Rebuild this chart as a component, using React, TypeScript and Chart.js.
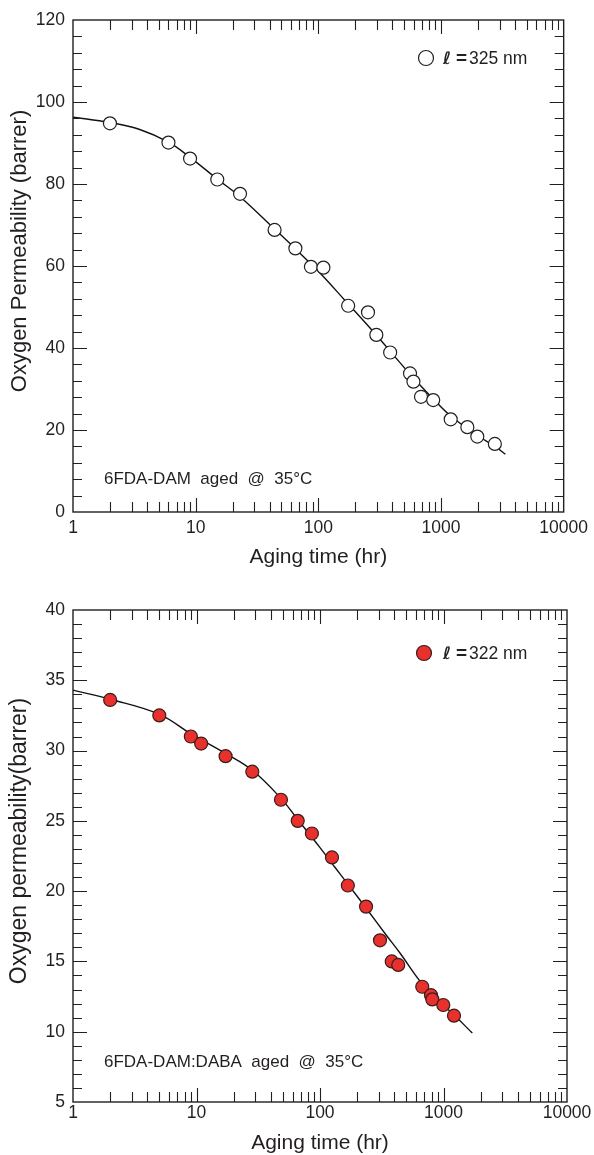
import React, { useEffect, useRef } from 'react';
import { Chart, registerables } from 'chart.js';

Chart.register(...registerables);

const FONT = "'Liberation Sans', Arial, Helvetica, sans-serif";
const INK = '#231f20';

// ---------- Panel A : 6FDA-DAM (l = 325 nm) ----------
const agingTimeA = [2, 6, 9, 15, 23, 44, 65, 87, 110, 175, 254, 297, 385, 559, 596, 687, 864, 1200, 1640, 1976, 2748];
const permeabilityA = [94.8, 90.1, 86.2, 81.1, 77.6, 68.8, 64.3, 59.8, 59.6, 50.3, 48.7, 43.2, 38.9, 33.8, 31.8, 28.1, 27.3, 22.6, 20.7, 18.4, 16.6];
const fitTimeA = [1, 2, 3.5, 6, 9, 15, 23, 44, 65, 100, 165, 300, 560, 850, 1200, 2000, 2750, 3350];
const fitPermA = [96.3, 95.0, 93.3, 90.2, 86.5, 81.2, 76.9, 69.0, 64.2, 58.7, 51.6, 43.0, 33.6, 27.8, 23.4, 18.6, 16.0, 14.1];

// ---------- Panel B : 6FDA-DAM:DABA (l = 322 nm) ----------
const agingTimeB = [2, 5, 9, 10.9, 17.2, 28.3, 48.3, 66, 86, 125, 168, 236, 306, 381, 430, 673, 792, 812, 996, 1216];
const permeabilityB = [33.6, 32.5, 31.0, 30.5, 29.6, 28.5, 26.5, 25.0, 24.1, 22.4, 20.4, 18.9, 16.5, 15.0, 14.75, 13.2, 12.6, 12.3, 11.9, 11.14];
const fitTimeB = [1, 2, 5, 9, 17.2, 28.3, 48.3, 66, 100, 132, 168, 236, 342, 444, 673, 996, 1216, 1711];
const fitPermB = [34.3, 33.65, 32.58, 31.2, 29.8, 28.6, 26.6, 25.1, 23.1, 21.7, 20.5, 18.8, 16.9, 15.6, 13.4, 11.9, 11.2, 9.9];

// ---------- Axes ----------
const xTickLabels = [1, 10, 100, 1000, 10000];
const xMin = 1;
const xMax = 10000;

const yRangeA = [0, 120];
const yStepA = 20;
const yMinorA = 4;
const yRangeB = [5, 40];
const yStepB = 5;
const yMinorB = 1;

const xTitle = 'Aging time (hr)';
const yTitleA = 'Oxygen Permeability (barrer)';
const yTitleB = 'Oxygen permeability(barrer)';
const noteA = '6FDA-DAM  aged  @  35°C';
const noteB = '6FDA-DAM:DABA  aged  @  35°C';
const legendNumA = '325 nm';
const legendNumB = '322 nm';

type Panel = {
  times: number[];
  perms: number[];
  fitT: number[];
  fitP: number[];
  yRange: number[];
  yStep: number;
  yMinor: number;
  yTitle: string;
  yTitleSize: number;
  note: string;
  noteY: number;
  legendNum: string;
  legendY: number;
  legendX: number;
  filled: boolean;
  height: number;
  xLabelPad: number;
  xTitleY: number;
};

const panels: Panel[] = [
  {
    times: agingTimeA, perms: permeabilityA, fitT: fitTimeA, fitP: fitPermA,
    yRange: yRangeA, yStep: yStepA, yMinor: yMinorA, yTitle: yTitleA, yTitleSize: 22,
    note: noteA, noteY: 484, legendNum: legendNumA, legendY: 58, legendX: 426,
    filled: false, height: 590, xLabelPad: 6, xTitleY: 563,
  },
  {
    times: agingTimeB, perms: permeabilityB, fitT: fitTimeB, fitP: fitPermB,
    yRange: yRangeB, yStep: yStepB, yMinor: yMinorB, yTitle: yTitleB, yTitleSize: 23,
    note: noteB, noteY: 477, legendNum: legendNumB, legendY: 63, legendX: 424,
    filled: true, height: 565, xLabelPad: 1, xTitleY: 559,
  },
];

function decorPlugin(p: Panel) {
  return {
    id: 'decor',
    afterDraw(chart: any) {
      const { ctx, chartArea: a, scales } = chart;
      const xs = scales.x;
      const ys = scales.y;
      ctx.save();
      ctx.strokeStyle = INK;
      ctx.lineWidth = 1.1;
      ctx.beginPath();
      // x ticks (log): inward, top and bottom
      for (let d = 1; d <= 1000; d *= 10) {
        for (let m = 1; m <= 9; m++) {
          const v = m * d;
          if (v <= xMin || v >= xMax) continue;
          const px = Math.round(xs.getPixelForValue(v)) + 0.5;
          const L = m === 1 ? 14 : 10;
          ctx.moveTo(px, a.bottom);
          ctx.lineTo(px, a.bottom - L);
          ctx.moveTo(px, a.top);
          ctx.lineTo(px, a.top + L);
        }
      }
      // y ticks: inward, left and right
      const [y0, y1] = p.yRange;
      for (let v = y0 + p.yMinor; v < y1; v += p.yMinor) {
        const py = Math.round(ys.getPixelForValue(v)) + 0.5;
        const major = Math.abs((v - y0) % p.yStep) < 1e-6;
        const L = major ? 14 : 9;
        ctx.moveTo(a.left, py);
        ctx.lineTo(a.left + L, py);
        ctx.moveTo(a.right, py);
        ctx.lineTo(a.right - L, py);
      }
      ctx.stroke();
      // frame
      ctx.lineWidth = 1.4;
      ctx.strokeRect(a.left, a.top, a.right - a.left, a.bottom - a.top);

      // axis titles
      ctx.fillStyle = INK;
      ctx.font = `21px ${FONT}`;
      ctx.textAlign = 'center';
      ctx.textBaseline = 'alphabetic';
      ctx.fillText(xTitle, (a.left + a.right) / 2, p.xTitleY);
      ctx.save();
      ctx.translate(26, 251);
      ctx.rotate(-Math.PI / 2);
      ctx.font = `${p.yTitleSize}px ${FONT}`;
      ctx.fillText(p.yTitle, 0, 0);
      ctx.restore();

      // note
      ctx.font = `17px ${FONT}`;
      ctx.textAlign = 'left';
      ctx.fillText(p.note, 104, p.noteY);

      // legend
      ctx.beginPath();
      ctx.arc(p.legendX, p.legendY, 7.5, 0, Math.PI * 2);
      ctx.fillStyle = p.filled ? '#e8302d' : '#ffffff';
      ctx.fill();
      ctx.lineWidth = 1.2;
      ctx.strokeStyle = p.filled ? '#3a1c1c' : INK;
      ctx.stroke();
      ctx.fillStyle = INK;
      const base = p.legendY + 6;
      ctx.font = `italic bold 17px 'DejaVu Sans', sans-serif`;
      ctx.fillText('ℓ', 443, base);
      ctx.font = `bold 19px ${FONT}`;
      ctx.fillText('=', 456, base);
      ctx.font = `17.5px ${FONT}`;
      ctx.fillText(p.legendNum, 469, base);
      ctx.restore();
    },
  };
}

function PanelChart({ p, top }: { p: Panel; top: number }) {
  const ref = useRef<HTMLCanvasElement>(null);
  useEffect(() => {
    const canvas = ref.current;
    if (!canvas) return;
    const points = p.times.map((t, i) => ({ x: t, y: p.perms[i] }));
    const fit = p.fitT.map((t, i) => ({ x: t, y: p.fitP[i] }));
    const chart = new Chart(canvas, {
      type: 'scatter',
      data: {
        datasets: [
          {
            type: 'scatter',
            data: points,
            pointRadius: 6.5,
            pointBackgroundColor: p.filled ? '#e8302d' : '#ffffff',
            pointBorderColor: p.filled ? '#3a1c1c' : INK,
            pointBorderWidth: 1.2,
            order: 0,
          } as any,
          {
            type: 'line',
            data: fit,
            showLine: true,
            pointRadius: 0,
            borderColor: '#111111',
            borderWidth: 1.4,
            tension: 0.4,
            fill: false,
            order: 1,
          } as any,
        ],
      },
      options: {
        animation: false,
        responsive: false,
        events: [],
        layout: { padding: { left: 0, right: 27, top: 20, bottom: 0 } },
        plugins: { legend: { display: false }, tooltip: { enabled: false } },
        scales: {
          x: {
            type: 'logarithmic',
            position: 'bottom',
            min: xMin,
            max: xMax,
            grid: { display: false, drawTicks: false },
            border: { display: false },
            ticks: {
              color: INK,
              font: { family: FONT, size: 17.5 },
              padding: p.xLabelPad,
              maxRotation: 0,
              autoSkip: false,
              callback: (v: any) => String(v),
            },
            afterBuildTicks: (s: any) => {
              s.ticks = xTickLabels.map((v) => ({ value: v }));
            },
            afterFit: (s: any) => {
              s.height = p.height - 512;
            },
          },
          y: {
            type: 'linear',
            min: p.yRange[0],
            max: p.yRange[1],
            grid: { display: false, drawTicks: false },
            border: { display: false },
            ticks: {
              stepSize: p.yStep,
              color: INK,
              font: { family: FONT, size: 17.5 },
              padding: 8,
            },
            afterFit: (s: any) => {
              s.width = 73;
            },
          },
        },
      } as any,
      plugins: [decorPlugin(p)],
    });
    return () => chart.destroy();
  }, [p]);
  return (
    <canvas
      ref={ref}
      width={594}
      height={p.height}
      style={{ position: 'absolute', left: 0, top, width: 594, height: p.height, display: 'block' }}
    />
  );
}

export default function App() {
  return (
    <div style={{ position: 'absolute', left: 0, top: 0, width: 594, height: 1155, background: '#ffffff' }}>
      <PanelChart p={panels[0]} top={0} />
      <PanelChart p={panels[1]} top={590} />
    </div>
  );
}
